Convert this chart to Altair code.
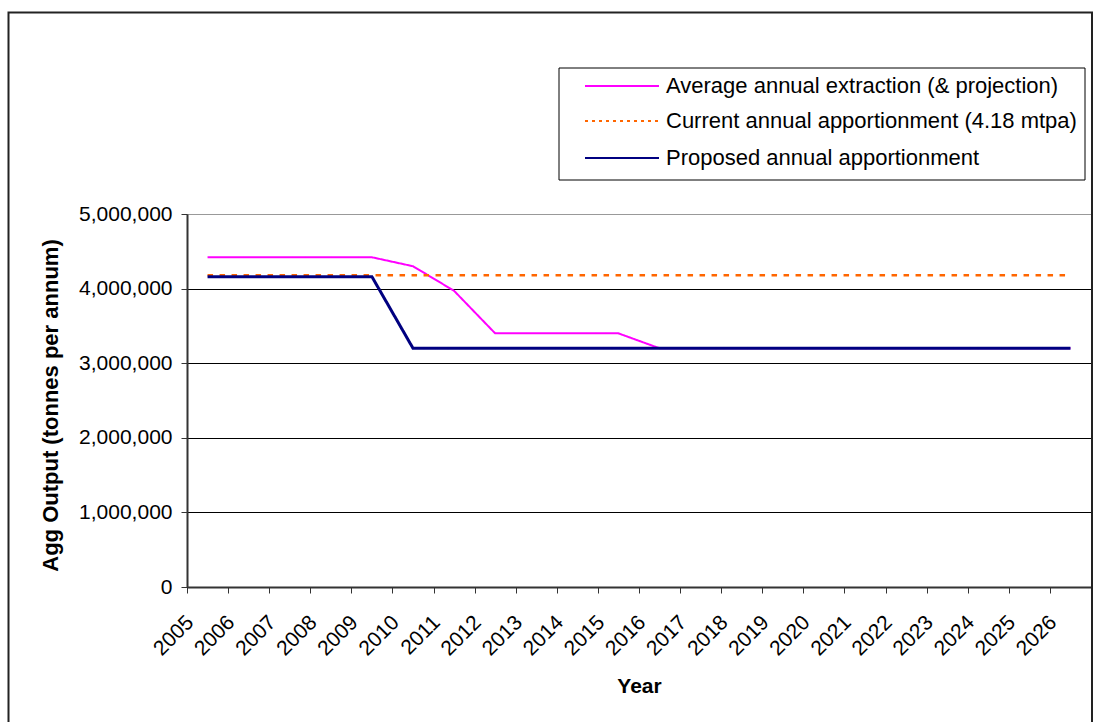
import altair as alt
import pandas as pd

# ---- data ----
years = list(range(2005, 2027))  # 22 category labels
series_names = [
    "Average annual extraction (& projection)",
    "Current annual apportionment (4.18 mtpa)",
    "Proposed annual apportionment",
]
extraction = [4420000, 4420000, 4420000, 4420000, 4420000, 4300000, 3970000,
              3400000, 3400000, 3400000, 3400000, 3200000, 3200000, 3200000,
              3200000, 3200000, 3200000, 3200000, 3200000, 3200000, 3200000, 3200000]
current = [4180000] * 22
proposed = [4160000, 4160000, 4160000, 4160000, 4160000, 3200000, 3200000,
            3200000, 3200000, 3200000, 3200000, 3200000, 3200000, 3200000,
            3200000, 3200000, 3200000, 3200000, 3200000, 3200000, 3200000, 3200000]
y_ticks = [0, 1000000, 2000000, 3000000, 4000000, 5000000]

# ---- styles ----
colors = ["#FF00FF", "#FF6600", "#000080"]
dashes = [[1, 0], [5.5, 6.5], [1, 0]]
widths = [2, 3, 2.5]
legend_dashes = [[1, 0], [3, 4], [1, 0]]
FONT = "Liberation Sans"
FS = 21

rows = []
for name, vals in zip(series_names, [extraction, current, proposed]):
    for yr, v in zip(years, vals):
        rows.append({"series": name, "x": yr + 0.5, "value": v})
df = pd.DataFrame(rows)

W, H = 904, 373
PL, PT = 187, 214

x_enc = alt.X("x:Q",
              scale=alt.Scale(domain=[years[0], years[-1] + 1], nice=False, zero=False),
              axis=alt.Axis(values=list(range(years[0], years[-1] + 2)),
                            format="d",
                            labelExpr=f"datum.value > {years[-1]} ? '' : datum.label",
                            labelAngle=315, labelAlign="right", labelBaseline="middle",
                            labelPadding=26, labelOffset=3, labelFontSize=FS,
                            labelOverlap=False, labelFlush=False, labelBound=False,
                            grid=False, tickSize=6,
                            title="Year", titleFontSize=21, titleFontWeight="bold",
                            titleY=99, titleX=W / 2, titleBaseline="middle", titleAlign="center"))
y_enc = alt.Y("value:Q",
              scale=alt.Scale(domain=[0, 5000000], nice=False),
              axis=alt.Axis(values=y_ticks, format=",d", labelFontSize=FS, labelPadding=9,
                            tickSize=6, grid=True,
                            gridColor={"condition": {"test": "datum.value >= 5000000", "value": "#999999"},
                                       "value": "#000000"},
                            gridWidth=1,
                            title="Agg Output (tonnes per annum)", titleFontSize=22,
                            titleFontWeight="bold", titleX=-137, titleY=191,
                            titleAngle=270, titleAlign="center", titleBaseline="middle"))

frame = alt.Chart(pd.DataFrame({"a": [0]})).mark_rect(
    filled=False, fillOpacity=0, stroke="#222222", strokeWidth=2
).encode(x=alt.value(8.5 - PL), x2=alt.value(1092 - PL),
         y=alt.value(12.5 - PT), y2=alt.value(760 - PT))

lines = alt.Chart(df).mark_line(strokeCap="butt").encode(
    x=x_enc, y=y_enc,
    color=alt.Color("series:N", scale=alt.Scale(domain=series_names, range=colors), legend=None),
    strokeDash=alt.StrokeDash("series:N", scale=alt.Scale(domain=series_names, range=dashes), legend=None),
    strokeWidth=alt.StrokeWidth("series:N", scale=alt.Scale(domain=series_names, range=widths), legend=None),
)

legend_box = alt.Chart(pd.DataFrame({"a": [0]})).mark_rect(
    fill="white", stroke="#000000", strokeWidth=1
).encode(x=alt.value(559 - PL), x2=alt.value(1085 - PL),
         y=alt.value(68 - PT), y2=alt.value(180 - PT))

layers = [frame, lines, legend_box]
row_y = [86, 121, 158]
for i, name in enumerate(series_names):
    ly = row_y[i] - PT
    layers.append(
        alt.Chart(pd.DataFrame({"a": [0]})).mark_rule(
            color=colors[i], strokeWidth=2, strokeDash=legend_dashes[i]
        ).encode(x=alt.value(585 - PL), x2=alt.value(659 - PL), y=alt.value(ly))
    )
    layers.append(
        alt.Chart(pd.DataFrame({"a": [0]})).mark_text(
            align="left", baseline="middle", fontSize=22, font=FONT, color="#000000"
        ).encode(x=alt.value(666 - PL), y=alt.value(ly), text=alt.value(name))
    )

chart = alt.layer(*layers).properties(
    width=W, height=H,
    autosize=alt.AutoSizeParams(type="none"),
    padding={"left": PL, "top": PT, "right": 2, "bottom": 722 - PT - H},
    background="white",
).configure_view(
    stroke="#808080", strokeWidth=1
).configure_axis(
    labelFont=FONT, titleFont=FONT, labelColor="#000000", titleColor="#000000",
    domainColor="#333333", domainWidth=2, tickColor="#333333", tickWidth=1,
)

chart.save("out.html", embed_options={"renderer": "svg", "actions": False})
